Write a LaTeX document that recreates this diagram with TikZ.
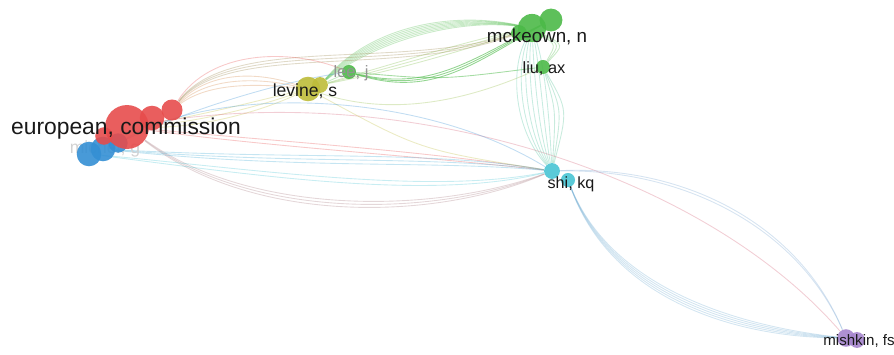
\documentclass[tikz,border=0pt]{standalone}
\usepackage{fontspec}
\setmainfont{Liberation Sans}
\usetikzlibrary{positioning}
\definecolor{vred}{RGB}{231,76,76}
\definecolor{vgreen}{RGB}{76,185,72}
\definecolor{volive}{RGB}{190,188,58}
\definecolor{vblue}{RGB}{52,143,212}
\definecolor{vcyan}{RGB}{72,196,212}
\definecolor{vpurple}{RGB}{165,132,205}
\pgfdeclarelayer{bg}
\pgfdeclarelayer{mid}
\pgfsetlayers{bg,mid,main}
\tikzset{
  bub/.style={circle, inner sep=0pt, draw=none, fill opacity=0.9},
  link/.style={line width=0.5pt, draw opacity=0.3},
  lab/.style={font=\fontsize{10}{12}\selectfont, text=black!90, inner sep=0pt}
}

\begin{document}
\begin{tikzpicture}[x=0.02cm,y=-0.02cm]
	\useasboundingbox (0,0) rectangle (894,355);
	\clip (0,0) rectangle (894,355);
	
	%bubbles
	\node[bub, fill=vblue, minimum size=14pt] (mg) at (89,154) {};
	\node[bub, fill=vblue, minimum size=14pt] (mg2) at (103,149) {};
	\node[bub, fill=vblue, minimum size=11pt] (mg3) at (118,143) {};
	\node[bub, fill=vred, minimum size=25pt] (ec) at (127,127) {};
	\node[bub, fill=vred, minimum size=14pt] (ec3) at (152,118) {};
	\node[bub, fill=vred, minimum size=12pt] (ec2) at (172,110) {};
	\node[bub, fill=vred, minimum size=10pt] (ec4) at (104,136) {};
	\node[bub, fill=volive, minimum size=14pt] (lev) at (308,89) {};
	\node[bub, fill=volive, minimum size=9pt] (lev2) at (320,85) {};
	\node[bub, fill=vgreen, minimum size=8pt] (lee) at (349,72) {};
	\node[bub, fill=vgreen, minimum size=16pt] (mck) at (532,28) {};
	\node[bub, fill=vgreen, minimum size=13pt] (mck2) at (551,20) {};
	\node[bub, fill=vgreen, minimum size=9pt] (mck3) at (519,33) {};
	\node[bub, fill=vgreen, minimum size=8pt] (liu) at (543,67) {};
	\node[bub, fill=vcyan, minimum size=9pt] (shi) at (552,171) {};
	\node[bub, fill=vcyan, minimum size=8pt] (shi2) at (568,180) {};
	\node[bub, fill=vpurple, minimum size=10pt] (mis) at (846,338) {};
	\node[bub, fill=vpurple, minimum size=9pt] (mis2) at (857,340) {};
	
	%labels
	\node[lab, font=\fontsize{13}{15}\selectfont] (ecl) at (126,129) {european, commission};
	\node[lab] (levl) at (305,91) {levine, s};
	\node[lab, text=gray!85, font=\fontsize{9.4}{11}\selectfont] (leel) at (351,73) {lee, j};
	\node[lab, font=\fontsize{10.7}{12}\selectfont] (mckl) at (537,37) {mckeown, n};
	\node[lab, font=\fontsize{9.3}{11}\selectfont] (liul) at (544,69) {liu, ax};
	\node[lab, font=\fontsize{9.2}{11}\selectfont] (shil) at (571,184) {shi, kq};
	\node[lab, font=\fontsize{8.6}{10}\selectfont] (misl) at (859,341) {mishkin, fs};
	
	\begin{pgfonlayer}{mid}
	\node[lab, text=gray!35] (mgl) at (105,149) {michel, g};
	\end{pgfonlayer}
	
	\begin{pgfonlayer}{bg}
	%green links
	\foreach \o in {0,3,6,9,12,15,18}
		\draw[link, vgreen] (lev2) .. controls (370,{45-\o}) and (450,{18-\o*0.4}) .. (mck);
	\foreach \o in {0,4,8}
		\draw[link, vgreen!60!volive] (lev2) .. controls (400,{70-\o}) and (470,{48-\o}) .. (mck);
	\foreach \o in {0,3,6}
		\draw[link, vgreen, draw opacity=0.6] (lee) .. controls (430,{92+\o}) and (470,{60+\o}) .. (mck2);
	\draw[link, vgreen, draw opacity=0.5] (lee) .. controls (440,80) .. (liu);
	\draw[link, vgreen] (lev2) -- (lee);
	\foreach \o in {0,4,8}
		\draw[link, vgreen!50!vred] (ec2) .. controls (230,{40-\o}) and (400,{80-\o}) .. (mck);
	\draw[link, vgreen!40!volive] (lev) .. controls (400,120) and (480,95) .. (liu);
	\foreach \o in {-4,0,4}
		\draw[link, vgreen] (mck) .. controls ({560+\o},45) .. (liu);
	\foreach \o in {-6,0,6}
		\draw[link, vgreen!50!vcyan] (liu) .. controls ({562+\o},110) .. (shi);
	
	%red and olive links
	\foreach \o in {0,6,12}
		\draw[link, vred!50!volive] (ec2) .. controls (210,{70+\o}) and (260,{72+\o}) .. (lev);
	\foreach \o in {0,6,12}
		\draw[link, volive] (ec) .. controls (200,{128-\o}) and (260,{112-\o}) .. (lev);
	\draw[link, vred] (ec2) .. controls (210,50) and (290,48) .. (lee);
	\foreach \o in {0,4,8}
		\draw[link, vred!60!vcyan] (ec) .. controls (250,{215+\o}) and (430,{215+\o}) .. (shi);
	\foreach \o in {0,6}
		\draw[link, vred] (ec) .. controls (260,{140+\o}) and (420,{150+\o}) .. (shi);
	\draw[link, vred!70!vpurple] (ec) .. controls (400,80) and (700,170) .. (mis);
	\draw[link, volive] (lev) .. controls (420,150) .. (shi);
	
	%blue links
	\draw[link, vblue] (mg3) .. controls (200,105) and (290,80) .. (lee);
	\draw[link, vblue] (mg3) .. controls (220,85) and (420,90) .. (shi);
	\foreach \o in {0,5,10}
		\draw[link, vblue!50!vcyan] (mg2) .. controls (300,{160+\o}) and (430,{150+\o}) .. (shi);
	
	%cyan links
	\foreach \o in {-14,-8,-2,4,10,16,22}
		\draw[link, vcyan!60!vgreen] (shi) .. controls ({528+\o},130) and ({524+\o},70) .. (mck);
	\foreach \o in {0,6}
		\draw[link, vcyan] (shi) .. controls (430,{195+\o}) and (260,{170+\o}) .. (mg);
	\foreach \o in {0,3,6,9,12}
		\draw[link, vcyan!60!vpurple] (shi2) .. controls (610,{285+\o}) and (730,{325+\o}) .. (mis);
	\foreach \o in {0,4}
		\draw[link, vcyan!50!vpurple] (shi) .. controls (690,{165+\o}) and (800,{228+\o}) .. (mis);
	\end{pgfonlayer}
	
\end{tikzpicture}
\end{document}
